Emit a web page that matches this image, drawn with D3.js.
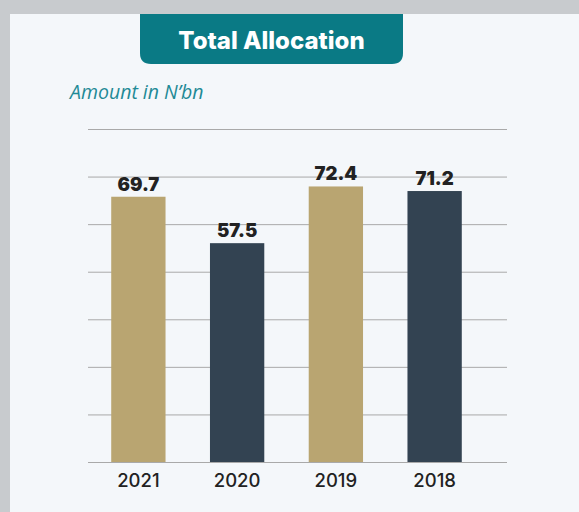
<!DOCTYPE html>
<html>
<head>
<meta charset="utf-8">
<script src="https://cdn.jsdelivr.net/npm/d3@7"></script>
<style>
  body { margin: 0; background: #c8cbce; }
  svg { display: block; }
</style>
</head>
<body>
<div id="chart"></div>
<script>
var svgWidth = 579;
var svgHeight = 512;

// data
var years = ["2021", "2020", "2019", "2018"];
var amounts = [69.7, 57.5, 72.4, 71.2];
var barColors = ["#b9a571", "#334352", "#b9a571", "#334352"];
var yMax = 87.5;
var gridStep = 12.5;

var margin = { top: 129, right: 72, bottom: 50, left: 88 };
var height = svgHeight - margin.top - margin.bottom;   // 333

var svg = d3.select("#chart")
  .append("svg")
  .attr("width", svgWidth)
  .attr("height", svgHeight);

// gray frame + light panel
svg.append("rect")
  .attr("width", svgWidth).attr("height", svgHeight)
  .attr("fill", "#c8cbce");
svg.append("rect")
  .attr("x", 10).attr("y", 14)
  .attr("width", svgWidth - 10).attr("height", svgHeight - 14)
  .attr("fill", "#f4f7fa");

// title tab with rounded bottom corners
var tx = 140, tw = 263, ty = 14, th = 50, r = 11;
svg.append("path")
  .attr("d", `M${tx},${ty} H${tx + tw} V${ty + th - r} Q${tx + tw},${ty + th} ${tx + tw - r},${ty + th} H${tx + r} Q${tx},${ty + th} ${tx},${ty + th - r} Z`)
  .attr("fill", "#0a7a85");
svg.append("text")
  .attr("x", tx + tw / 2)
  .attr("y", 49)
  .attr("text-anchor", "middle")
  .attr("font-family", "Inter, sans-serif")
  .attr("font-weight", 800)
  .attr("font-size", "24px")
  .attr("fill", "#ffffff")
  .text("Total Allocation");

svg.append("text")
  .attr("x", 70)
  .attr("y", 99)
  .attr("font-family", "'Open Sans', sans-serif")
  .attr("font-style", "italic")
  .attr("font-size", "19.5px")
  .attr("fill", "#1f8a96")
  .text("Amount in N\u2019bn");

var chartGroup = svg.append("g");

var xBand = d3.scaleBand()
  .domain(years)
  .range([89, 484])
  .paddingInner(0.45)
  .paddingOuter(0.225);

var yLinear = d3.scaleLinear()
  .domain([0, yMax])
  .range([margin.top + height, margin.top]);

// gridlines
var grid = chartGroup.append("g")
  .attr("transform", `translate(507, 0)`)
  .call(d3.axisRight(yLinear)
    .tickValues(d3.range(0, yMax + 0.01, gridStep))
    .tickSize(-(507 - 88))
    .tickFormat(""));
grid.select(".domain").remove();
grid.selectAll("line").attr("stroke", "#a9a9a9").attr("stroke-width", 1);

// bars
var data = years.map((y, i) => ({ year: y, value: amounts[i], color: barColors[i] }));

chartGroup.selectAll("rect.bar")
  .data(data)
  .enter()
  .append("rect")
  .attr("class", "bar")
  .attr("x", d => xBand(d.year))
  .attr("y", d => yLinear(d.value))
  .attr("width", xBand.bandwidth())
  .attr("height", d => yLinear(0) - yLinear(d.value))
  .attr("fill", d => d.color);

// value labels
chartGroup.selectAll("text.val")
  .data(data)
  .enter()
  .append("text")
  .attr("class", "val")
  .attr("x", d => xBand(d.year) + xBand.bandwidth() / 2)
  .attr("y", d => yLinear(d.value) - 6)
  .attr("text-anchor", "middle")
  .attr("font-family", "Inter, sans-serif")
  .attr("font-weight", 900)
  .attr("font-size", "18.5px")
  .attr("fill", "#222222")
  .text(d => d.value.toFixed(1));

// x axis labels
var xAxis = chartGroup.append("g")
  .attr("transform", `translate(0, ${yLinear(0)})`)
  .call(d3.axisBottom(xBand).tickSize(0).tickPadding(12));
xAxis.select(".domain").remove();
xAxis.selectAll("text")
  .attr("font-family", "Inter, sans-serif")
  .attr("font-weight", 500)
  .attr("font-size", "18.5px")
  .attr("fill", "#222222");
</script>
</body>
</html>
